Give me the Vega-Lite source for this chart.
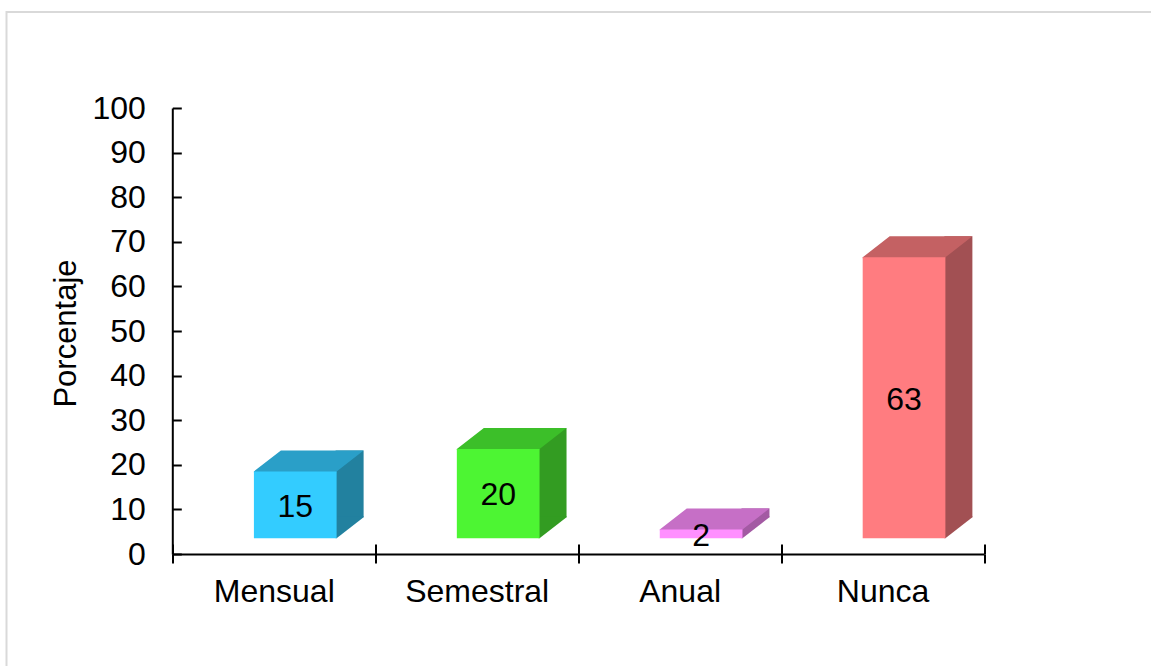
{
  "$schema": "https://vega.github.io/schema/vega-lite/v6.json",
  "width": 1144.5,
  "height": 654,
  "autosize": {"type": "none"},
  "padding": {"left": 6.5, "top": 12, "right": 0, "bottom": 0},
  "config": {
    "font": "Liberation Sans",
    "view": {"stroke": "#d9d9d9", "strokeWidth": 2, "strokeDash": [1144.5, 1798.5, 654]},
    "axis": {"grid": false, "labelColor": "#000000", "titleColor": "#000000", "tickColor": "#000000", "domainColor": "#000000"}
  },
  "data": {
    "values": [
      {"Frecuencia": "Mensual", "Porcentaje": 15},
      {"Frecuencia": "Semestral", "Porcentaje": 20},
      {"Frecuencia": "Anual", "Porcentaje": 2},
      {"Frecuencia": "Nunca", "Porcentaje": 63}
    ]
  },
  "layer": [
    {
      "mark": {"type": "bar", "width": 28, "xOffset": 75.85, "yOffset": -36.7, "y2Offset": -36.7},
      "encoding": {
        "x": {"field": "Frecuencia", "type": "nominal", "sort": null, "axis": null,
          "scale": {"domain": ["Mensual", "Semestral", "Anual", "Nunca"], "range": [165.8, 977.5], "paddingInner": 0, "paddingOuter": 0}},
        "y": {"field": "Porcentaje", "type": "quantitative", "scale": {"domain": [0, 100], "range": [542, 96], "nice": false}, "axis": null},
        "y2": {"datum": 0},
        "fill": {"field": "Frecuencia", "type": "nominal", "legend": null,
          "scale": {"domain": ["Mensual", "Semestral", "Anual", "Nunca"], "range": ["#22819f", "#339c22", "#a35aa3", "#a25053"]}}
      }
    },
    {
      "mark": {"type": "point", "filled": true, "opacity": 1, "strokeWidth": 0, "size": 2916,
        "shape": "M-0.037,0L-0.037,-0.8148L1,-0.8148L1,-0.7778L0,0Z",
        "xOffset": 62.85, "yOffset": -15.7},
      "encoding": {
        "x": {"field": "Frecuencia", "type": "nominal", "sort": null, "axis": null,
          "scale": {"domain": ["Mensual", "Semestral", "Anual", "Nunca"], "range": [165.8, 977.5], "paddingInner": 0, "paddingOuter": 0}},
        "y": {"datum": 0, "type": "quantitative", "scale": {"domain": [0, 100], "range": [542, 96], "nice": false}, "axis": null},
        "fill": {"field": "Frecuencia", "type": "nominal", "legend": null,
          "scale": {"domain": ["Mensual", "Semestral", "Anual", "Nunca"], "range": ["#22819f", "#339c22", "#a35aa3", "#a25053"]}}
      }
    },
    {
      "mark": {"type": "point", "filled": true, "opacity": 1, "strokeWidth": 0, "size": 6839.3,
        "shape": "M-1,0.024L1,0.024L1,0L1.6529,-0.5078L-0.3471,-0.5078L-1,0Z",
        "xOffset": 21.5, "yOffset": -15.7},
      "encoding": {
        "x": {"field": "Frecuencia", "type": "nominal", "sort": null, "axis": null,
          "scale": {"domain": ["Mensual", "Semestral", "Anual", "Nunca"], "range": [165.8, 977.5], "paddingInner": 0, "paddingOuter": 0}},
        "y": {"field": "Porcentaje", "type": "quantitative", "scale": {"domain": [0, 100], "range": [542, 96], "nice": false}, "axis": null},
        "fill": {"field": "Frecuencia", "type": "nominal", "legend": null,
          "scale": {"domain": ["Mensual", "Semestral", "Anual", "Nunca"], "range": ["#2a9fc8", "#3cbf29", "#c66fc6", "#c46163"]}}
      }
    },
    {
      "mark": {"type": "bar", "width": 82.7, "xOffset": 21.5, "yOffset": -15.7, "y2Offset": -15.7},
      "encoding": {
        "x": {
          "field": "Frecuencia",
          "type": "nominal",
          "sort": null,
          "scale": {"domain": ["Mensual", "Semestral", "Anual", "Nunca"], "range": [165.8, 977.5], "paddingInner": 0, "paddingOuter": 0},
          "axis": {
            "orient": "bottom",
            "title": null,
            "offset": -112,
            "tickBand": "extent",
            "tickSize": 9,
            "tickWidth": 2,
            "domainWidth": 2,
            "labelAngle": 0,
            "labelFontSize": 32,
            "labelPadding": 13
          }
        },
        "y": {
          "field": "Porcentaje",
          "type": "quantitative",
          "scale": {"domain": [0, 100], "range": [542, 96], "nice": false},
          "axis": {
            "orient": "left",
            "title": "Porcentaje",
            "offset": -165.8,
            "values": [0, 10, 20, 30, 40, 50, 60, 70, 80, 90, 100],
            "tickSize": -9,
            "tickWidth": 2,
            "domainWidth": 2,
            "labelFontSize": 32,
            "labelPadding": 36,
            "labelAlign": "right",
            "labelBaseline": "middle",
            "titleFontSize": 31,
            "titleFontWeight": "normal",
            "titleAngle": 270,
            "titleAlign": "center",
            "titleBaseline": "alphabetic",
            "titleX": -96.5,
            "titleY": 321
          }
        },
        "y2": {"datum": 0},
        "fill": {"field": "Frecuencia", "type": "nominal", "legend": null,
          "scale": {"domain": ["Mensual", "Semestral", "Anual", "Nunca"], "range": ["#33ccff", "#4df533", "#ff8fff", "#ff7c80"]}}
      }
    },
    {
      "mark": {"type": "text", "fontSize": 32, "color": "#000000", "align": "center", "baseline": "middle", "xOffset": 21.5, "yOffset": -14},
      "encoding": {
        "x": {
          "field": "Frecuencia",
          "type": "nominal",
          "sort": null,
          "scale": {"domain": ["Mensual", "Semestral", "Anual", "Nunca"], "range": [165.8, 977.5], "paddingInner": 0, "paddingOuter": 0},
          "axis": {
            "orient": "bottom",
            "title": null,
            "labels": false,
            "domain": false,
            "offset": -112,
            "tickBand": "extent",
            "tickSize": -10,
            "tickWidth": 2
          }
        },
        "y": {"field": "Porcentaje", "type": "quantitative", "scale": {"domain": [0, 200], "range": [542, 96], "nice": false}, "axis": null},
        "text": {"field": "Porcentaje", "type": "quantitative"}
      }
    }
  ],
  "resolve": {"scale": {"y": "independent", "fill": "independent"}, "axis": {"x": "independent", "y": "independent"}}
}
